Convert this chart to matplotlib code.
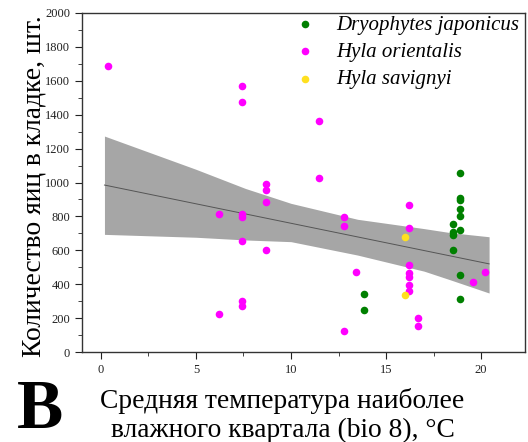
import numpy as np
import matplotlib
matplotlib.use("Agg")
import matplotlib.pyplot as plt
from matplotlib.ticker import MultipleLocator

# Data
dj_x = [13.85, 13.85, 18.9, 18.9, 18.9, 18.9, 18.9, 18.9, 18.9, 18.9, 18.5, 18.5, 18.5, 18.5]
dj_y = [344, 246, 1058, 906, 895, 842, 800, 720, 452, 311, 755, 710, 688, 602]

ho_x = [0.4, 7.4, 7.4, 6.2, 7.4, 7.4, 7.4, 8.7, 8.7, 8.7, 8.7, 7.4, 7.4, 6.2,
        11.5, 11.5, 12.8, 12.8, 12.8, 13.4, 16.2, 16.2, 16.2, 16.2, 16.2, 16.2, 16.2,
        16.7, 16.7, 19.6, 20.2]
ho_y = [1690, 1571, 1477, 812, 812, 794, 657, 991, 956, 887, 602, 300, 270, 224,
        1364, 1025, 794, 743, 124, 474, 867, 732, 513, 468, 441, 395, 360,
        203, 151, 411, 472]

hs_x = [16.0, 16.0]
hs_y = [677, 338]

# fitted regression line and its confidence band
fit_x = [0.19, 20.42]
fit_y = [985, 520]
band_x = [0.19, 5.0, 7.6, 10.0, 13.5, 17.0, 18.4, 20.42]
band_hi = [1274, 1078, 965, 877, 783, 728, 704, 680]
band_lo = [694, 677, 661, 651, 572, 477, 425, 348]

x_ticks = [0, 5, 10, 15, 20]
y_ticks = list(range(0, 2001, 200))

plt.rcParams['font.family'] = ['Liberation Serif', 'DejaVu Serif']

fig = plt.figure(figsize=(5.28, 4.42), dpi=100)
ax = fig.add_axes([0.155, 0.2036, 0.839, 0.767])

ax.fill_between(band_x, band_lo, band_hi, color='#a6a6a6', lw=0, zorder=1)
ax.plot(fit_x, fit_y, color='#555555', lw=0.7, zorder=2)

ms = 30
ax.scatter(dj_x, dj_y, s=ms, color='#008000', lw=0, zorder=3, label='Dryophytes japonicus')
ax.scatter(ho_x, ho_y, s=ms, color='#ff00ff', lw=0, zorder=3, label='Hyla orientalis')
ax.scatter(hs_x, hs_y, s=ms, color='#ffe020', lw=0, zorder=4, label='Hyla savignyi')

ax.set_xlim(-1, 22.3)
ax.set_ylim(0, 2000)
ax.set_xticks(x_ticks)
ax.set_yticks(y_ticks)
ax.xaxis.set_minor_locator(MultipleLocator(2.5))
ax.yaxis.set_minor_locator(MultipleLocator(100))
ax.tick_params(which='both', direction='out', top=False, right=False, labelsize=9, colors='#222222')
ax.tick_params(which='major', length=5)
ax.tick_params(which='minor', length=3)
for sp in ax.spines.values():
    sp.set_color('#333333')
    sp.set_linewidth(1.0)

ax.set_ylabel('Количество яиц в кладке, шт.', fontsize=19.8)
ax.yaxis.set_label_coords(-0.079, 0.49)

fig.text(282.5 / 528, 1 - 408 / 442, 'Средняя температура наиболее', fontsize=19.8,
         ha='center', va='baseline')
fig.text(282.5 / 528, 1 - 437 / 442, 'влажного квартала (bio 8), °C', fontsize=19.8,
         ha='center', va='baseline')

leg = ax.legend(loc='upper right', bbox_to_anchor=(0.993, 1.0), frameon=False,
                prop={'style': 'italic', 'size': 15},
                handletextpad=0.5, borderaxespad=0.05, labelspacing=0.37, markerscale=1.0,
                borderpad=0.05)

fig.text(40 / 528, 1 - 428 / 442, 'B', fontsize=50, fontweight='bold', ha='center', va='baseline')

fig.savefig('out.png', dpi=100)
